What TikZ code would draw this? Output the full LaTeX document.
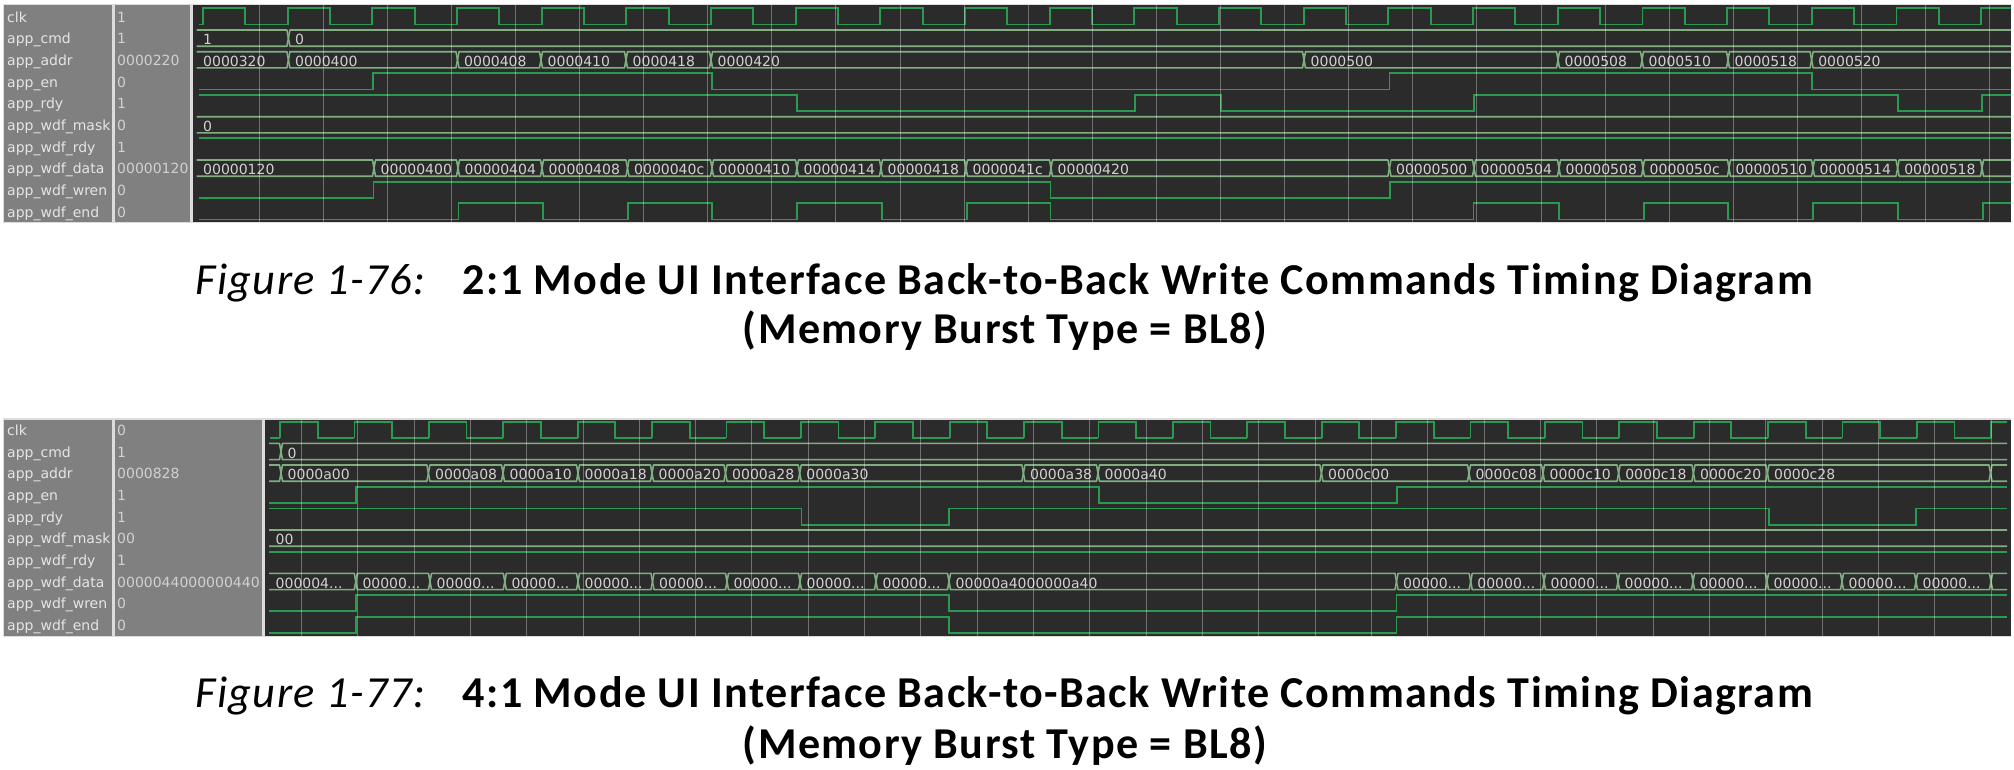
\documentclass[tikz,border=0pt]{standalone}
\usepackage{fontspec}
\setmainfont{Carlito}
\newfontfamily\wavefont{DejaVu Sans}
\newfontfamily\titlefont[LetterSpace=3.3]{Carlito}
\newcommand\elps{...}
\definecolor{namegrey}{HTML}{808080}
\definecolor{wavebg}{HTML}{2B2B2B}
\definecolor{edgegrey}{HTML}{DCDCDC}
\definecolor{sigcol}{HTML}{2A9A50}
\definecolor{buscol}{HTML}{80AE82}
\tikzset{
  sigline/.style={draw=sigcol,line width=1.8pt,line join=miter},
  busline/.style={draw=buscol,line width=1.6pt,line join=round},
  gridline/.style={draw=white,opacity=.33,line width=1pt},
  wavetext/.style={text=white!82!black,inner sep=0pt,font=\wavefont\fontsize{14}{14}\selectfont},
  nametext/.style={text=white!90!black,inner sep=0pt,font=\wavefont\fontsize{14}{14}\selectfont},
  capnum/.style={inner sep=0pt,anchor=base west,font=\titlefont\fontsize{44.4}{46}\selectfont\itshape},
  captitle/.style={inner sep=0pt,anchor=base west,font=\titlefont\fontsize{44.1}{46}\selectfont\bfseries},
  capline/.style={inner sep=0pt,anchor=base,font=\titlefont\fontsize{44.1}{46}\selectfont\bfseries}
}
\newcommand\busrow[4]{%
  \foreach \xa/\xb/\lab [count=\k] in {#4} {
    \ifnum\k=1
      \draw[busline] (\xa,#2) -- ({\xb-1.5},#2) -- (\xb,{(#2+#3)/2}) -- ({\xb-1.5},#3) -- (\xa,#3);
    \else
      \draw[busline] (\xa,{(#2+#3)/2}) -- ({\xa+1.5},#2) -- ({\xb-1.5},#2) -- (\xb,{(#2+#3)/2}) -- ({\xb-1.5},#3) -- ({\xa+1.5},#3) -- cycle;
    \fi
    \node[wavetext,anchor=base west] (#1\k) at ({\xa+6.5},{#3-1.5}) {\lab};
  }%
}
\begin{document}
\begin{tikzpicture}[x=1pt,y=-1pt]
\useasboundingbox (0,0) rectangle (2014,769);
\fill[white] (0,0) rectangle (2014,769);

% ---------- Panel 1 ----------
\fill[edgegrey] (3,3.5) rectangle (2011,223);
\fill[namegrey] (3.5,5) rectangle (112,222);
\fill[namegrey] (115,5) rectangle (189.5,222);
\fill[wavebg] (193,5) rectangle (2011,222);
\foreach \nm/\vl/\yb [count=\k] in {clk/1/24.5,app\_cmd/1/46.2,app\_addr/0000220/67.9,app\_en/0/89.5,app\_rdy/1/111.2,app\_wdf\_mask/0/132.9,app\_wdf\_rdy/1/154.5,app\_wdf\_data/00000120/176.2,app\_wdf\_wren/0/197.9,app\_wdf\_end/0/219.5} {
  \node[nametext,anchor=base west] (pan\k) at (7,{\yb-2.5}) {\nm};
  \node[wavetext,anchor=base west] (pav\k) at (117,{\yb-2.5}) {\vl};
}
\begin{scope}
\clip (193,5) rectangle (2011,222);
% clk
\draw[sigline] (198.6,24.5) -- (203,24.5);
\foreach \k in {0,...,21} {
  \draw[sigline] ({203+84.67*\k},24.5) |- ({245.3+84.67*\k},8.3) |- ({287.67+84.67*\k},24.5);
}
\busrow{pacmd}{30}{46.2}{196.5/288.4/1,288.4/2030/0}
\busrow{paaddr}{51.7}{67.9}{196.5/288.4/0000320,288.4/457.5/0000400,457.5/541/0000408,541/626/0000410,626/711/0000418,711/1304/0000420,1304/1558/0000500,1558/1642/0000508,1642/1728/0000510,1728/1811.6/0000518,1811.6/2030/0000520}
\draw[sigline] (198.6,89.5) -| (373,73.3) -| (712,89.5) -| (1389.4,73.3) -| (1812,89.5) -- (2011,89.5);
\draw[sigline] (198.6,95) -| (797,111.2) -| (1135,95) -| (1220.7,111.2) -| (1473.7,95) -| (1897.6,111.2) -| (1982,95) -- (2011,95);
\busrow{pamask}{116.7}{132.9}{196.5/2030/0}
\draw[sigline] (198.6,138.3) -- (2011,138.3);
\busrow{padata}{160}{176.2}{196.5/374/00000120,374/458/00000400,458/542/00000404,542/627.5/00000408,627.5/712/0000040c,712/797/00000410,797/881/00000414,881/966/00000418,966/1051/0000041c,1051/1389.4/00000420,1389.4/1474/00000500,1474/1559/00000504,1559/1643/00000508,1643/1729/0000050c,1729/1813/00000510,1813/1897.6/00000514,1897.6/1982/00000518,1982/2030/{}}
\draw[sigline] (198.6,197.9) -| (373.5,181.7) -| (1050.4,197.9) -| (1389.8,181.7) -- (2011,181.7);
\draw[sigline] (198.6,219.5) -| (458.5,203.3) -| (543,219.5) -| (628,203.3) -| (712,219.5) -| (797,203.3) -| (882,219.5) -| (967,203.3) -| (1050.4,219.5) -| (1473.5,203.3) -| (1559,219.5) -| (1643.6,203.3) -| (1728,219.5) -| (1813,203.3) -| (1898,219.5) -| (1982.6,203.3) -- (2011,203.3);
\foreach \k in {0,...,27} {
  \draw[gridline] ({259+64.1*\k},5) -- ({259+64.1*\k},222);
}
\end{scope}

% ---------- Caption 1 ----------
\node[capnum] (c1a) at (195,294) {Figure 1-76:};
\node[captitle] (c1b) at (462.5,294) {2:1 Mode UI Interface Back-to-Back Write Commands Timing Diagram};
\node[capline] (c1c) at (1005,343.5) {(Memory Burst Type = BL8)};

% ---------- Panel 2 ----------
\fill[edgegrey] (3,418) rectangle (2011,637);
\fill[namegrey] (3.5,419.5) rectangle (112,636);
\fill[namegrey] (115,419.5) rectangle (261.5,636);
\fill[wavebg] (265,419.5) rectangle (2011,636);
\foreach \nm/\vl/\yb [count=\k] in {clk/0/437.9,app\_cmd/1/459.6,app\_addr/0000828/481.2,app\_en/1/502.9,app\_rdy/1/524.6,app\_wdf\_mask/00/546.2,app\_wdf\_rdy/1/567.9,app\_wdf\_data/0000044000000440/589.6,app\_wdf\_wren/0/611.2,app\_wdf\_end/0/632.9} {
  \node[nametext,anchor=base west] (pbn\k) at (7,{\yb-2.5}) {\nm};
  \node[wavetext,anchor=base west] (pbv\k) at (117,{\yb-2.5}) {\vl};
}
\begin{scope}
\clip (265,419.5) rectangle (2007,636);
\draw[sigline] (269.7,437.9) -- (280,437.9);
\foreach \k in {0,...,23} {
  \draw[sigline] ({280+74.4*\k},437.9) |- ({317.7+74.4*\k},421.7) |- ({354.4+74.4*\k},437.9);
}
\busrow{pbcmd}{443.4}{459.6}{269/281/{},281/2030/0}
\busrow{pbaddr}{465}{481.2}{269/281/{},281/428.4/0000a00,428.4/503/0000a08,503/578/0000a10,578/652/0000a18,652/725.5/0000a20,725.5/799.7/0000a28,799.7/1023.4/0000a30,1023.4/1098/0000a38,1098/1321.4/0000a40,1321.4/1469/0000c00,1469/1543/0000c08,1543/1618.6/0000c10,1618.6/1693.4/0000c18,1693.4/1767.4/0000c20,1767.4/1990.5/0000c28,1990.5/2030/{}}
\draw[sigline] (269,502.9) -| (355.6,486.7) -| (1099,502.9) -| (1396.7,486.7) -- (2007,486.7);
\draw[sigline] (269,508.4) -| (801.4,524.6) -| (949,508.4) -| (1769,524.6) -| (1916,508.4) -- (2007,508.4);
\busrow{pbmask}{530}{546.2}{269/2030/00}
\draw[sigline] (269,551.7) -- (2007,551.7);
\busrow{pbdata}{573.4}{589.6}{269/355.8/000004\elps,355.8/430/00000\elps,430/504.8/00000\elps,504.8/578/00000\elps,578/652.5/00000\elps,652.5/727/00000\elps,727/800/00000\elps,800/876/00000\elps,876/949/00000\elps,949/1396.5/00000a4000000a40,1396.5/1470.7/00000\elps,1470.7/1544/00000\elps,1544/1618/00000\elps,1618/1693/00000\elps,1693/1767/00000\elps,1767/1842/00000\elps,1842/1916/00000\elps,1916/1991/00000\elps,1991/2030/{}}
\draw[sigline] (269,611.2) -| (355.8,595) -| (949,611.2) -| (1396.5,595) -- (2007,595);
\draw[sigline] (269,632.9) -| (355.8,616.7) -| (949,632.9) -| (1396.5,616.7) -- (2007,616.7);
\foreach \k in {0,...,30} {
  \draw[gridline] ({301.4+56.32*\k},419.5) -- ({301.4+56.32*\k},636);
}
\end{scope}

% ---------- Caption 2 ----------
\node[capnum] (c2a) at (195,707) {Figure 1-77:};
\node[captitle] (c2b) at (462.5,707) {4:1 Mode UI Interface Back-to-Back Write Commands Timing Diagram};
\node[capline] (c2c) at (1005,758.5) {(Memory Burst Type = BL8)};
\end{tikzpicture}
\end{document}
